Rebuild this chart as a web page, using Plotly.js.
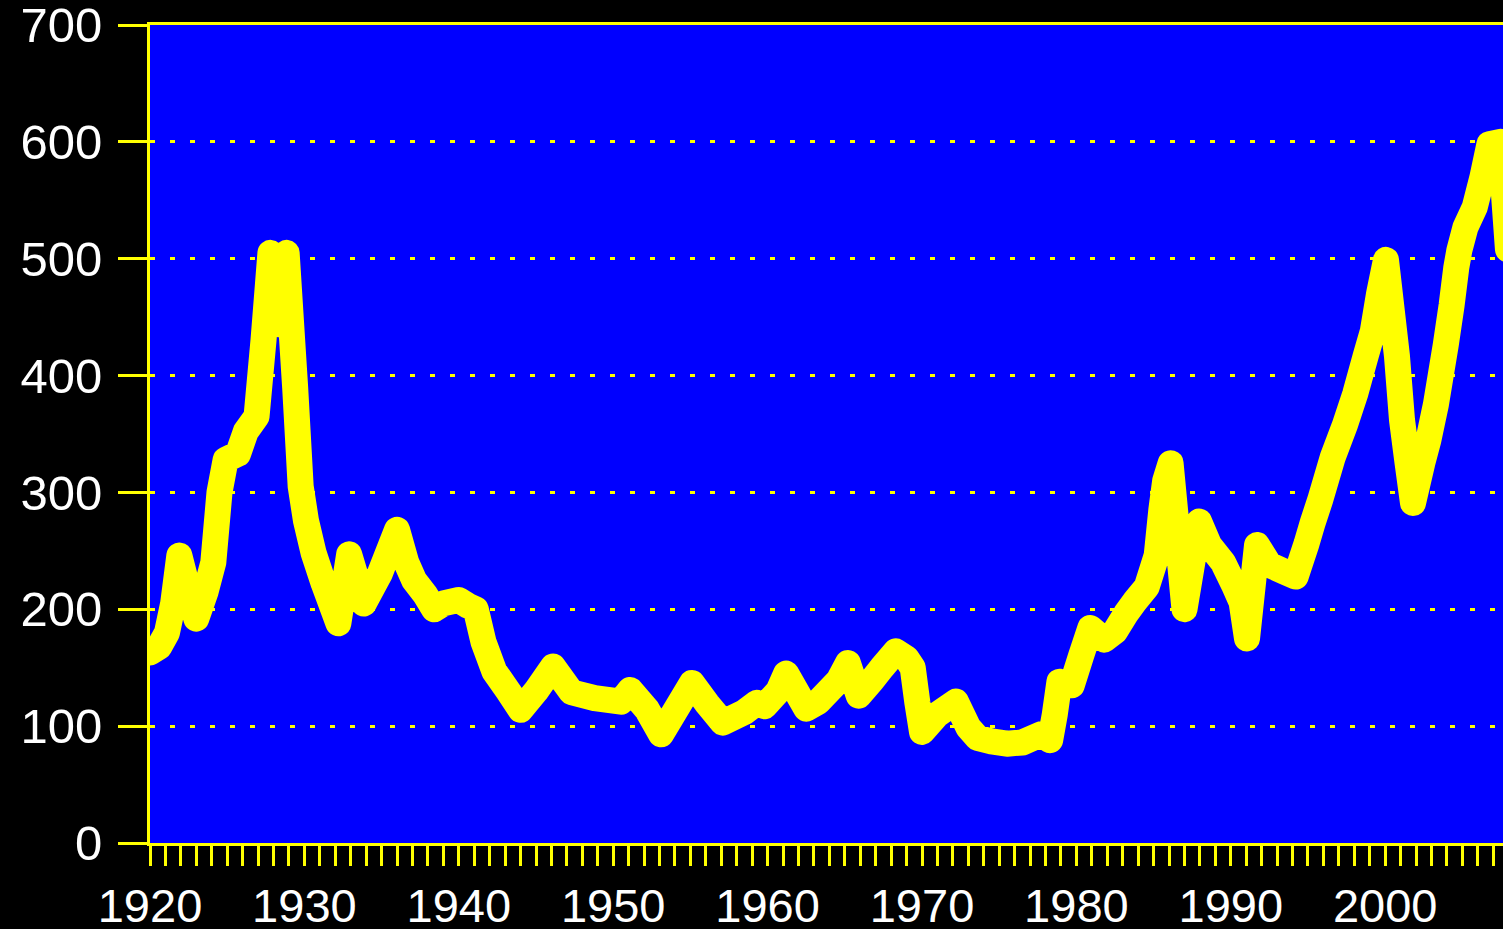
<!DOCTYPE html>
<html>
<head>
<meta charset="utf-8">
<script src="https://cdn.plot.ly/plotly-3.0.1.min.js"></script>
<style>
  html, body { margin: 0; padding: 0; background: #000000; }
  #chart { width: 1503px; height: 929px; }
  .scatterlayer .js-line { stroke-linejoin: round; stroke-linecap: round; }
</style>
</head>
<body>
<div id="chart"></div>
<script>
// Data
const years = [
  1920.0, 1920.6, 1921.1, 1921.5, 1921.9, 1922.5, 1923.0, 1923.6, 1924.1, 1924.5,
  1924.9, 1925.7, 1926.2, 1926.9, 1927.35, 1927.8, 1928.3, 1928.85, 1929.4, 1929.76,
  1930.1, 1930.6, 1931.25, 1932.2, 1932.9, 1933.85, 1934.9, 1936.0, 1936.6, 1937.1,
  1937.8, 1938.4, 1939.0, 1940.0, 1940.6, 1941.1, 1941.6, 1942.3, 1943.2, 1944.0,
  1945.0, 1946.1, 1947.3, 1948.8, 1950.5, 1951.1, 1952.2, 1953.1, 1955.1, 1956.1,
  1957.1, 1958.5, 1959.3, 1959.8, 1960.7, 1961.2, 1962.5, 1963.3, 1964.6, 1965.2,
  1965.9, 1966.75, 1967.4, 1968.3, 1969.0, 1969.4, 1969.7, 1970.0, 1971.0, 1972.2,
  1973.0, 1973.6, 1974.5, 1975.5, 1976.5, 1977.7, 1978.3, 1978.6, 1978.9, 1979.7,
  1980.3, 1980.9, 1981.8, 1982.5, 1983.2, 1983.8, 1984.55, 1985.2, 1985.5, 1985.75,
  1986.1, 1987.0, 1987.95, 1988.6, 1989.5, 1990.2, 1990.7, 1991.05, 1991.7, 1992.5,
  1993.5, 1994.2, 1994.45, 1994.9, 1995.3, 1995.8, 1996.6, 1997.4, 1998.05, 1998.74,
  1999.2, 1999.6, 2000.05, 2000.76, 2001.09, 2001.45, 2001.8, 2002.4, 2002.8, 2003.28,
  2003.92, 2004.3, 2004.6, 2004.8, 2005.2, 2005.8, 2006.3, 2006.75, 2007.45, 2007.95
];
const values = [
  163, 168, 180, 205, 246, 215, 192, 215, 240, 300,
  328, 333, 352, 365, 430, 505, 444, 505, 390, 305,
  276, 248, 222, 188, 247, 205, 231, 268, 240, 225,
  213, 200, 205, 208, 203, 200, 172, 147, 130, 114,
  130, 151, 129, 124, 121, 131, 114, 93, 137, 119,
  103, 112, 120, 117, 130, 145, 115, 121, 139, 154,
  126, 139, 150, 164, 158, 150, 120, 95, 110, 121,
  99, 90, 87, 85, 86, 93, 88, 110, 138, 135,
  160, 184, 174, 181, 196, 207, 219, 246, 285, 310,
  325, 200, 275, 255, 240, 221, 206, 175, 255, 238,
  232, 228, 238, 256, 274, 294, 330, 358, 384, 417,
  438, 470, 499, 417, 362, 325, 291, 325, 345, 375,
  426, 460, 492, 507, 527, 544, 570, 598, 600, 508
];
const yTicks = [0, 100, 200, 300, 400, 500, 600, 700];
const yTickLabels = ["0", "100", "200", "300", "400", "500", "600", "700"];
const xTicks = [1920, 1930, 1940, 1950, 1960, 1970, 1980, 1990, 2000];
const xTickLabels = ["1920", "1930", "1940", "1950", "1960", "1970", "1980", "1990", "2000"];

const YELLOW = "#FFFF00";
const xTickFont = { family: "Liberation Sans, Arial, sans-serif", size: 47, color: "#FFFFFF" };
const yTickFont = { family: "Liberation Sans, Arial, sans-serif", size: 49, color: "#FFFFFF" };

const trace = {
  x: years,
  y: values,
  type: "scatter",
  mode: "lines",
  line: { color: YELLOW, width: 26, shape: "linear", simplify: false },
  hoverinfo: "skip"
};

const layout = {
  width: 1503,
  height: 929,
  paper_bgcolor: "#000000",
  plot_bgcolor: "#0000FF",
  showlegend: false,
  margin: { l: 150, r: 0, t: 25, b: 86, pad: 0 },
  xaxis: {
    range: [1920, 2007.63],
    showgrid: false,
    zeroline: false,
    showline: true,
    linecolor: YELLOW,
    linewidth: 3,
    mirror: true,
    ticks: "outside",
    ticklen: 20,
    tickwidth: 3,
    tickcolor: YELLOW,
    tickvals: xTicks,
    ticktext: xTickLabels,
    tickfont: xTickFont,
    ticklabelstandoff: 0,
    ticklabeloverflow: "allow",
    minor: { dtick: 1, tick0: 1920, ticks: "outside", ticklen: 20, tickwidth: 3, tickcolor: YELLOW, showgrid: false }
  },
  yaxis: {
    range: [0, 700],
    showgrid: true,
    gridcolor: YELLOW,
    gridwidth: 3,
    griddash: "5px,15px",
    zeroline: false,
    showline: true,
    linecolor: YELLOW,
    linewidth: 3,
    ticks: "outside",
    ticklen: 29,
    tickwidth: 3,
    tickcolor: YELLOW,
    tickvals: yTicks,
    ticktext: yTickLabels,
    tickfont: yTickFont,
    ticklabelstandoff: 6,
    ticklabeloverflow: "allow"
  }
};

Plotly.newPlot("chart", [trace], layout, { staticPlot: true, displayModeBar: false });
</script>
</body>
</html>
